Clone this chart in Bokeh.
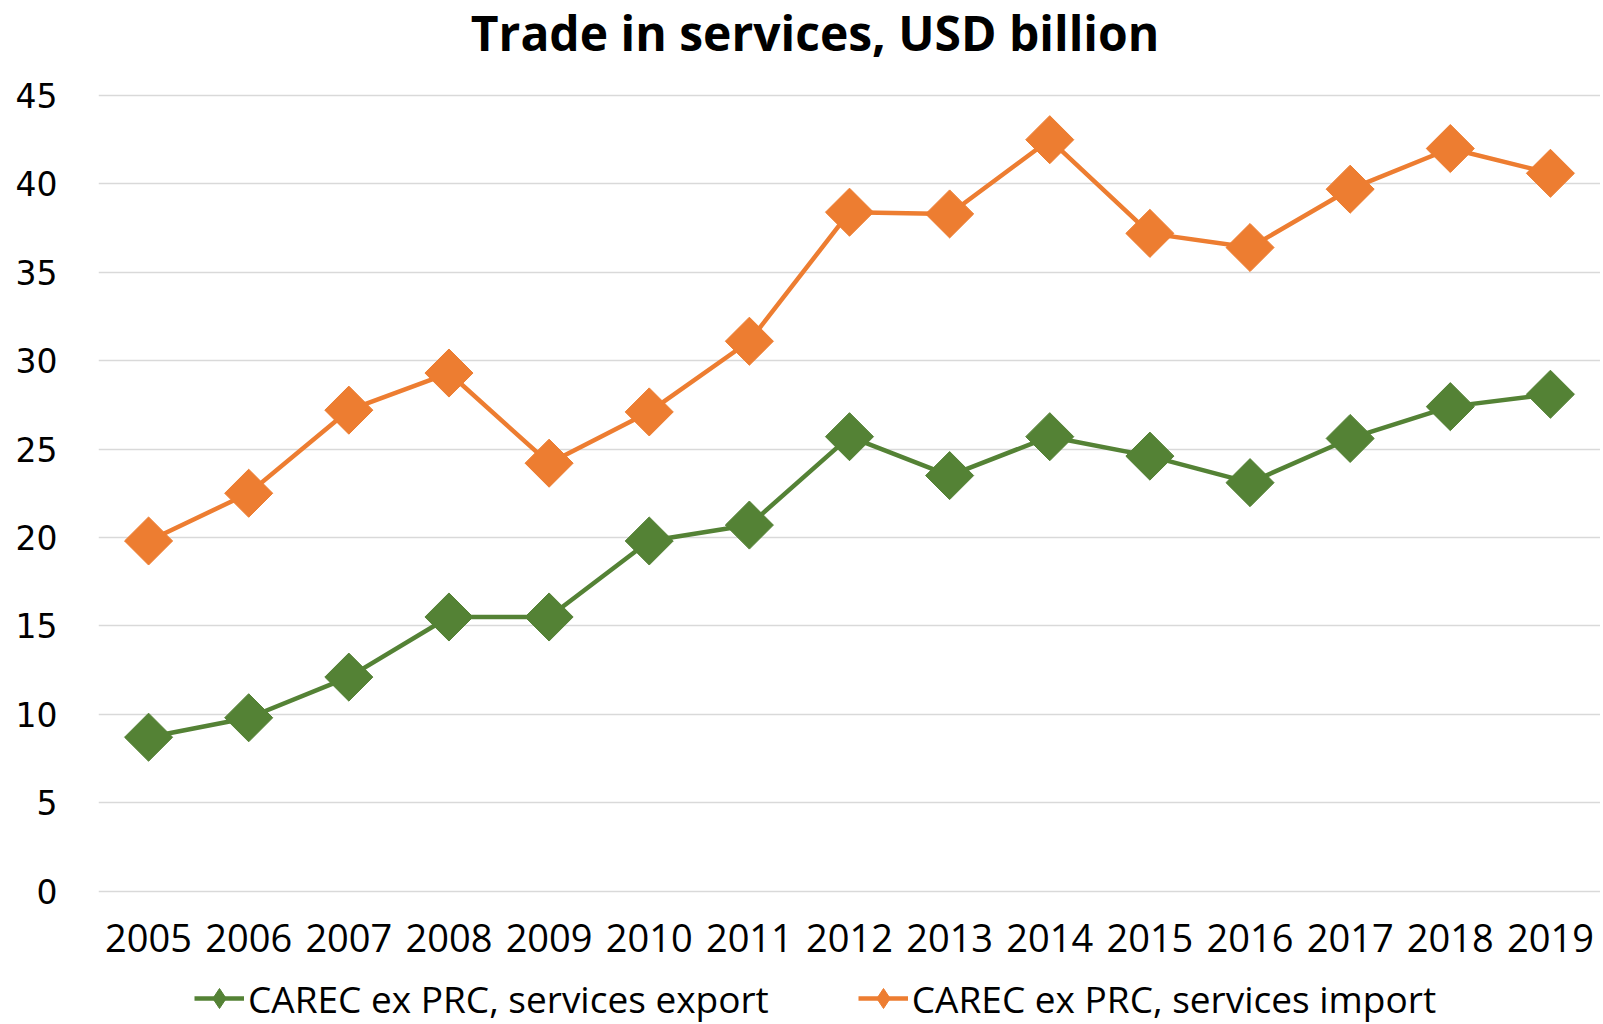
import math
from bokeh.plotting import figure
from bokeh.models import FactorRange, Range1d, FixedTicker, Legend, LegendItem, Label
from bokeh.embed import file_html
from bokeh.resources import INLINE

years = ["2005", "2006", "2007", "2008", "2009", "2010", "2011", "2012",
         "2013", "2014", "2015", "2016", "2017", "2018", "2019"]
services_export = [8.7, 9.8, 12.1, 15.5, 15.5, 19.8, 20.7, 25.7,
                   23.5, 25.7, 24.6, 23.1, 25.6, 27.4, 28.1]
services_import = [19.8, 22.5, 27.2, 29.3, 24.2, 27.1, 31.1, 38.4,
                   38.3, 42.5, 37.2, 36.4, 39.7, 42.0, 40.6]
y_ticks = [0, 5, 10, 15, 20, 25, 30, 35, 40, 45]

title_text = "Trade in services, USD billion"
series_names = ["CAREC ex PRC, services export", "CAREC ex PRC, services import"]
GREEN = "#548235"
ORANGE = "#ED7D31"

# layout (pixels)
W, H = 1600, 1022
LEFT = 98            # plot area left edge
Y0_PX, Y45_PX = 890.5, 95.0   # pixel rows of the 0 and 45 gridlines
ppu = (Y0_PX - Y45_PX) / 45.0
y_top = 45 + Y45_PX / ppu
y_bottom = -(H - Y0_PX) / ppu

p = figure(
    width=W, height=H,
    x_range=FactorRange(factors=years, range_padding=0),
    y_range=Range1d(y_bottom, y_top),
    output_backend="svg", toolbar_location=None,
    min_border_left=LEFT, min_border_right=0, min_border_top=0, min_border_bottom=0,
)
p.outline_line_color = None
p.background_fill_color = "white"
p.border_fill_color = "white"

# grid
p.xgrid.grid_line_color = None
p.ygrid.grid_line_color = "#D9D9D9"
p.ygrid.grid_line_width = 1.5
p.yaxis.ticker = FixedTicker(ticks=y_ticks)

for ax in (p.xaxis[0], p.yaxis[0]):
    ax.axis_line_color = None
    ax.major_tick_line_color = None
    ax.minor_tick_line_color = None
    ax.major_tick_out = 0
    ax.major_tick_in = 0
    ax.major_label_text_color = "black"

p.yaxis.major_label_text_font = "DejaVu Sans"
p.yaxis.major_label_text_font_size = "33px"
p.yaxis.major_label_standoff = 41

p.xaxis.fixed_location = 0
p.xaxis.major_label_text_font = "Open Sans"
p.xaxis.major_label_text_font_size = "38px"
p.xaxis.major_label_standoff = 33

# series
r_exp_line = p.line(years, services_export, line_color=GREEN, line_width=4.5)
r_exp_pts = p.scatter(years, services_export, marker="square", angle=math.pi / 4,
                      size=34, fill_color=GREEN, line_color=GREEN)
r_imp_line = p.line(years, services_import, line_color=ORANGE, line_width=4.5)
r_imp_pts = p.scatter(years, services_import, marker="square", angle=math.pi / 4,
                      size=34, fill_color=ORANGE, line_color=ORANGE)

# diamond symbols used only by the legend (zero size in the plot)
lg_exp = p.scatter(years, services_export, marker="diamond", size=0,
                   fill_color=GREEN, line_color=GREEN)
lg_imp = p.scatter(years, services_import, marker="diamond", size=0,
                   fill_color=ORANGE, line_color=ORANGE)

# title
title = Label(x=814.5 - LEFT, y=H - 32, x_units="screen", y_units="screen",
              text=title_text, text_align="center", text_baseline="alphabetic",
              text_font="Open Sans", text_font_style="bold", text_font_size="48px",
              text_color="black")
p.add_layout(title)

legend = Legend(
    items=[LegendItem(label=series_names[0], renderers=[r_exp_line, lg_exp]),
           LegendItem(label=series_names[1], renderers=[r_imp_line, lg_imp])],
    orientation="horizontal",
    location=(96, -6),
    padding=0, margin=0, spacing=89,
    glyph_width=50, glyph_height=60, label_standoff=4,
    label_text_font="Open Sans", label_text_font_size="37px", label_text_color="black",
    border_line_color=None, background_fill_alpha=0,
)
p.add_layout(legend, "center")

open("out.html", "w").write(file_html(p, INLINE))
